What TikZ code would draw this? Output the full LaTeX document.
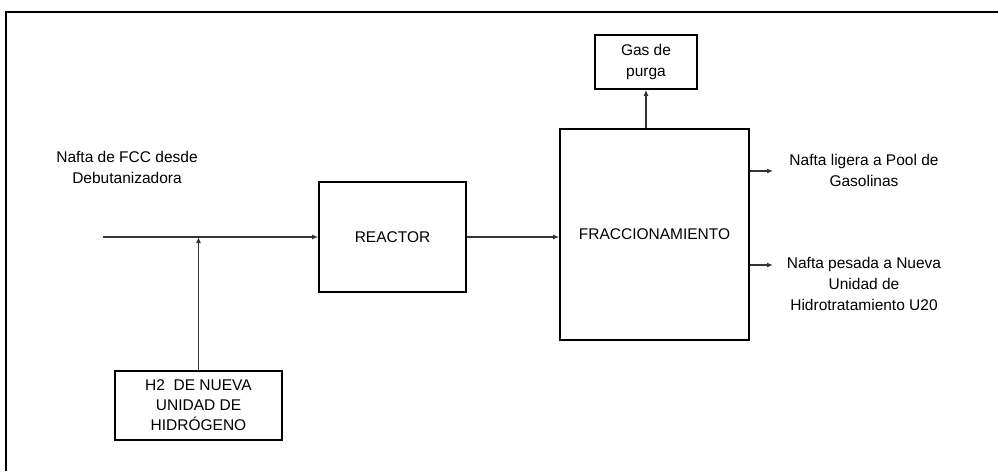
\documentclass[tikz,border=0pt]{standalone}
\usepackage{fontspec}
\setmainfont{Liberation Sans}
\usetikzlibrary{arrows.meta}
\begin{document}
\begin{tikzpicture}[x=1pt,y=-1pt,
  every node/.style={font=\fontsize{15.5}{21}\selectfont},
  blk/.style={draw=black,line width=1.6pt,inner sep=0pt,align=center},
  lbl/.style={inner sep=0pt,align=center},
  flow/.style={draw=black!80,line width=1.6pt,-{Latex[length=6pt,width=5pt]}}]
\useasboundingbox (0,0) rectangle (998,471);
% frame
\draw[line width=1.2pt] (6,471) -- (6,12) -- (998,12);
% blocks
\node[blk,minimum width=147pt,minimum height=110pt] (reac) at (392.5,237) {REACTOR};
\node[blk,minimum width=189pt,minimum height=211pt] (frac) at (654.5,234.5) {FRACCIONAMIENTO};
\node[blk,minimum width=102pt,minimum height=54pt] (gas) at (646,62) {Gas de\\purga};
\node[blk,minimum width=167pt,minimum height=69pt,font=\fontsize{15.5}{20}\selectfont] (h2) at (198.5,405.5) {H2~~DE NUEVA\\UNIDAD DE\\HIDRÓGENO};
% labels
\node[lbl] (feedlbl) at (127,167.5) {Nafta de FCC desde\\Debutanizadora};
\node[lbl] (lig) at (864,170) {Nafta ligera a Pool de\\Gasolinas};
\node[lbl] (pes) at (864,284) {Nafta pesada a Nueva\\Unidad de\\Hidrotratamiento U20};
% coordinates
\coordinate (feed) at (103,237);
\coordinate (ligend) at (773,171);
\coordinate (pesend) at (773,265);
% connectors
\draw[flow] (feed) -- (reac.west);
\draw[flow] (h2.north) -- (h2.north |- feed);
\draw[flow] (reac.east) -- (frac.west |- reac.east);
\draw[flow] (frac.north -| gas.south) -- (gas.south);
\draw[flow] (frac.east |- ligend) -- (ligend);
\draw[flow] (frac.east |- pesend) -- (pesend);
\end{tikzpicture}
\end{document}
